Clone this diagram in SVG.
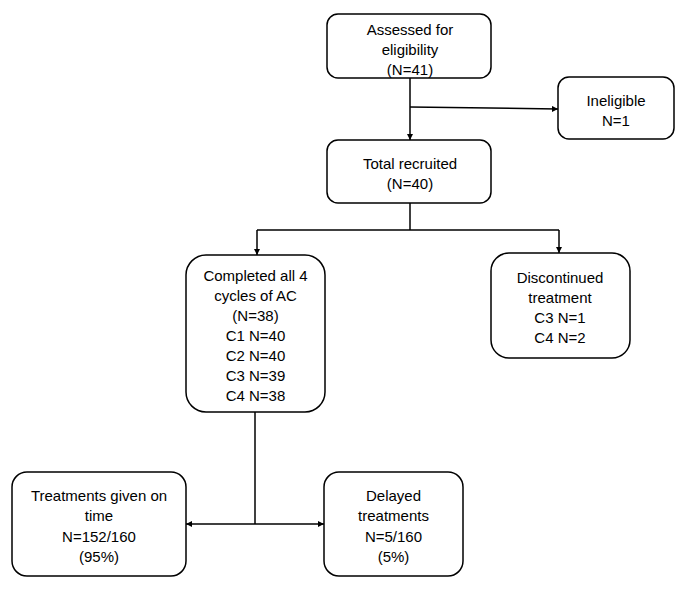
<svg xmlns="http://www.w3.org/2000/svg" width="685" height="593" viewBox="0 0 685 593">
<style>
.box{fill:#fff;stroke:#000;stroke-width:1.5}
.t{font-family:"Liberation Sans",Arial,sans-serif;font-size:15px;fill:#000;text-anchor:middle;dominant-baseline:central}
.c{fill:none;stroke:#000;stroke-width:1.5}
</style>
<defs>
<marker id="ah" viewBox="0 0 10 10" refX="10" refY="5" markerWidth="6" markerHeight="6" markerUnits="userSpaceOnUse" orient="auto-start-reverse">
<path d="M0,0 L10,5 L0,10 z" fill="#000"/>
</marker>
</defs>
<rect width="685" height="593" fill="#fff"/>
<g id="connectors">
<path class="c" d="M410,78 V140" marker-end="url(#ah)"/>
<path class="c" d="M410,107 L558,109" marker-end="url(#ah)"/>
<path class="c" d="M410,203 V230"/>
<path class="c" d="M257,230 H559"/>
<path class="c" d="M257,230 V255" marker-end="url(#ah)"/>
<path class="c" d="M559,230 V253" marker-end="url(#ah)"/>
<path class="c" d="M255,412 V524"/>
<path class="c" d="M255,524 H186" marker-end="url(#ah)"/>
<path class="c" d="M255,524 H324" marker-end="url(#ah)"/>
</g>
<g id="assessed">
<rect class="box" x="327" y="14" width="164" height="64" rx="11"/>
<text class="t" x="410" y="29">Assessed for</text>
<text class="t" x="410" y="49">eligibility</text>
<text class="t" x="410" y="69">(N=41)</text>
</g>
<g id="ineligible">
<rect class="box" x="558" y="77" width="116" height="62" rx="11"/>
<text class="t" x="616" y="100">Ineligible</text>
<text class="t" x="616" y="120">N=1</text>
</g>
<g id="recruited">
<rect class="box" x="327" y="140" width="164" height="63" rx="11"/>
<text class="t" x="410" y="163">Total recruited</text>
<text class="t" x="410" y="183">(N=40)</text>
</g>
<g id="completed">
<rect class="box" x="186" y="255" width="139" height="157" rx="20"/>
<text class="t" x="255.5" y="275">Completed all 4</text>
<text class="t" x="255.5" y="295">cycles of AC</text>
<text class="t" x="255.5" y="315">(N=38)</text>
<text class="t" x="255.5" y="335">C1 N=40</text>
<text class="t" x="255.5" y="355">C2 N=40</text>
<text class="t" x="255.5" y="375">C3 N=39</text>
<text class="t" x="255.5" y="395">C4 N=38</text>
</g>
<g id="discontinued">
<rect class="box" x="491" y="253" width="139" height="105" rx="18"/>
<text class="t" x="560" y="277">Discontinued</text>
<text class="t" x="560" y="297">treatment</text>
<text class="t" x="560" y="317">C3 N=1</text>
<text class="t" x="560" y="337">C4 N=2</text>
</g>
<g id="ontime">
<rect class="box" x="12" y="472" width="174" height="104" rx="15"/>
<text class="t" x="99" y="495">Treatments given on</text>
<text class="t" x="99" y="515">time</text>
<text class="t" x="99" y="536">N=152/160</text>
<text class="t" x="99" y="556">(95%)</text>
</g>
<g id="delayed">
<rect class="box" x="324" y="472" width="139" height="104" rx="15"/>
<text class="t" x="393.5" y="495">Delayed</text>
<text class="t" x="393.5" y="515">treatments</text>
<text class="t" x="393.5" y="536">N=5/160</text>
<text class="t" x="393.5" y="556">(5%)</text>
</g>
</svg>
